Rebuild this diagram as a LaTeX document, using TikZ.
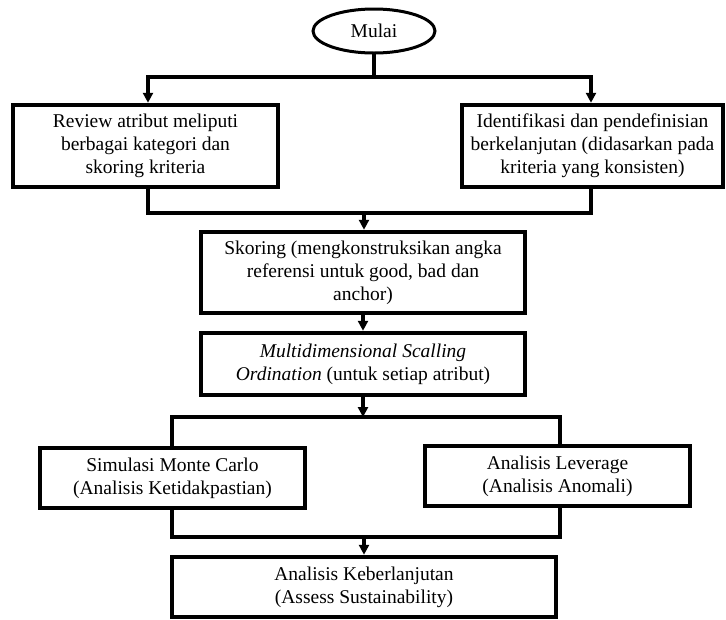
\documentclass[tikz,border=0pt]{standalone}
\usepackage{fontspec}
\setmainfont{Liberation Serif}
\usetikzlibrary{shapes.geometric,arrows.meta}
\begin{document}
\begin{tikzpicture}[x=1pt,y=-1pt,
  font=\fontsize{19.5}{23}\selectfont,
  stepbox/.style={draw, line width=4.5pt, rectangle, inner sep=0pt, align=center, fill=white},
  startbox/.style={draw, line width=3pt, ellipse, inner sep=0pt, minimum width=122pt, minimum height=44pt},
  ln/.style={line width=4pt, line cap=rect},
  arr/.style={line width=3.5pt, -{Triangle[length=10pt,width=10pt]}}
]
\useasboundingbox (0,0) rectangle (726,619);

% nodes
\node[startbox] (mulai) at (374,31) {Mulai};
\node[stepbox, minimum width=265pt, minimum height=82pt] (review) at (145.5,146)
  {Review atribut meliputi\\berbagai kategori dan\\skoring kriteria};
\node[stepbox, minimum width=261pt, minimum height=82pt] (ident) at (592.5,146)
  {Identifikasi dan pendefinisian\\berkelanjutan (didasarkan pada\\kriteria yang konsisten)};
\node[stepbox, minimum width=324pt, minimum height=81pt] (skoring) at (363,272.5)
  {Skoring (mengkonstruksikan angka\\referensi untuk good, bad dan\\anchor)};
\node[stepbox, minimum width=324pt, minimum height=62pt] (mds) at (363,364)
  {\textit{Multidimensional Scalling}\\\textit{Ordination} (untuk setiap atribut)};
\node[stepbox, minimum width=265pt, minimum height=60pt] (simulasi) at (172.5,478)
  {Simulasi Monte Carlo\\(Analisis Ketidakpastian)};
\node[stepbox, minimum width=265pt, minimum height=60pt] (leverage) at (557.5,476)
  {Analisis Leverage\\(Analisis Anomali)};
\node[stepbox, minimum width=384pt, minimum height=60pt] (final) at (364,587)
  {Analisis Keberlanjutan\\(Assess Sustainability)};

% junctions
\coordinate (j1) at (374,77);
\coordinate (j1L) at (148,77);
\coordinate (j1R) at (591,77);
\coordinate (j2L) at (148,213);
\coordinate (j2R) at (591,213);
\coordinate (j2C) at (364,213);
\coordinate (j3L) at (172,417);
\coordinate (j3R) at (560,417);
\coordinate (j3C) at (363,417);
\coordinate (j4L) at (172,537);
\coordinate (j4R) at (560,537);
\coordinate (j4C) at (364,537);

% connectors
\draw[ln] (mulai.south) -- (j1);
\draw[ln] (j1L) -- (j1R);
\draw[arr] (j1L) -- (j1L |- review.north);
\draw[arr] (j1R) -- (j1R |- ident.north);
\draw[ln] (j1L |- review.south) -- (j2L) -- (j2R) -- (j2R |- ident.south);
\draw[arr] (j2C) -- (j2C |- skoring.north);
\draw[arr] (skoring.south) -- (mds.north);
\draw[arr] (mds.south) -- (j3C);
\draw[ln] (j3L |- simulasi.north) -- (j3L) -- (j3R) -- (j3R |- leverage.north);
\draw[ln] (j4L |- simulasi.south) -- (j4L) -- (j4R) -- (j4R |- leverage.south);
\draw[arr] (j4C) -- (j4C |- final.north);
\end{tikzpicture}
\end{document}
